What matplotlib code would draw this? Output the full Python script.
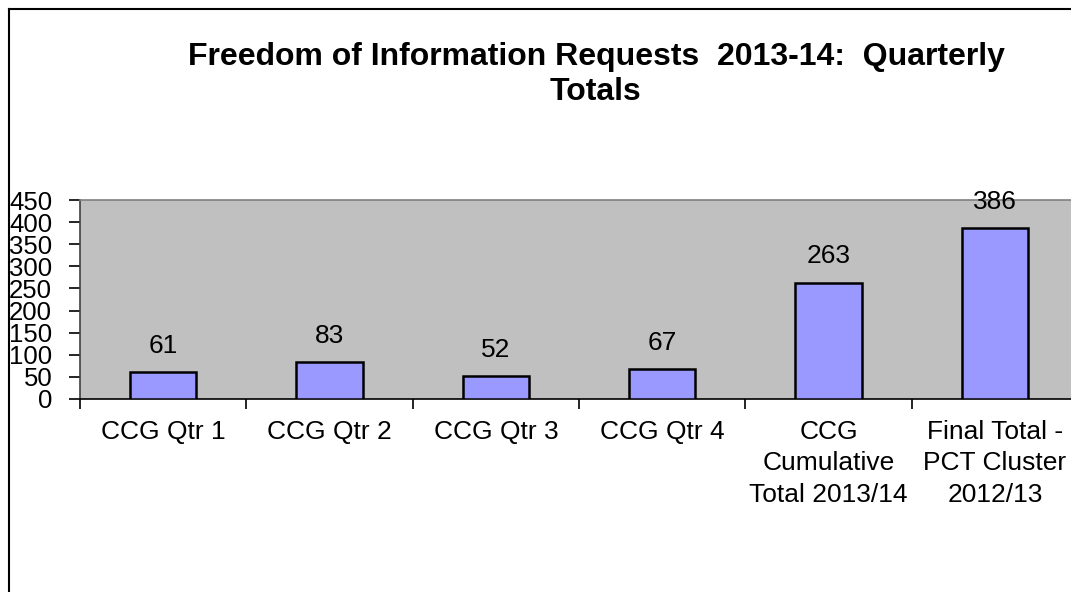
import matplotlib.pyplot as plt
from matplotlib.lines import Line2D
import numpy as np

# Chart data
categories = ["CCG Qtr 1", "CCG Qtr 2", "CCG Qtr 3", "CCG Qtr 4",
              "CCG\nCumulative\nTotal 2013/14", "Final Total -\nPCT Cluster\n2012/13"]
requests = [61, 83, 52, 67, 263, 386]
y_ticks = [0, 50, 100, 150, 200, 250, 300, 350, 400, 450]


def main():
    plt.rcParams['font.family'] = ['Liberation Sans', 'DejaVu Sans']

    fig = plt.figure(figsize=(10.71, 5.92), dpi=100)
    fig.patch.set_facecolor('white')

    # Plot area placed in pixels, right edge runs past the image
    W, H = 1071, 592
    ax = fig.add_axes([80 / W, (H - 399) / H, 998 / W, 199 / H])
    ax.set_facecolor('#C0C0C0')

    x = np.arange(len(categories))
    ax.bar(x, requests, width=0.4, color='#9999FF', edgecolor='black',
           linewidth=1.8, zorder=3)

    for xi, v in zip(x, requests):
        ax.annotate(str(v), (xi, v), xytext=(0, 19), textcoords='offset points',
                    ha='center', va='center', fontsize=19)

    ax.set_xlim(-0.5, len(categories) - 0.5)
    ax.set_ylim(0, 450)

    # Axes and ticks
    ax.set_yticks(y_ticks)
    ax.set_yticklabels([str(t) for t in y_ticks], fontsize=18.5)
    ax.set_xticks(np.arange(len(categories) + 1) - 0.5)
    ax.set_xticklabels([])
    ax.set_xticks(x, minor=True)
    ax.set_xticklabels(categories, minor=True, fontsize=19, linespacing=1.4)
    ax.tick_params(axis='x', which='minor', length=0, pad=15)
    ax.tick_params(axis='x', which='major', length=7, width=1.2, direction='out')
    ax.tick_params(axis='y', length=8, width=1.2, direction='out', pad=12)

    ax.spines['top'].set_color('#808080')
    ax.spines['right'].set_visible(False)
    ax.spines['left'].set_color('#404040')
    ax.spines['bottom'].set_color('black')
    for s in ax.spines.values():
        s.set_linewidth(1.2)

    # Title (two lines)
    fig.text(596 / W, 1 - 57 / H, "Freedom of Information Requests  2013-14:  Quarterly",
             ha='center', va='center', fontsize=23, fontweight='bold')
    fig.text(596 / W, 1 - 92 / H, "Totals",
             ha='center', va='center', fontsize=23, fontweight='bold')

    # Chart frame lines (left and top)
    fig.add_artist(Line2D([9 / W, 9 / W], [0, 1 - 9 / H], color='black', linewidth=1.5))
    fig.add_artist(Line2D([9 / W, 1], [1 - 9 / H, 1 - 9 / H], color='black', linewidth=1.5))

    plt.savefig("out.png", dpi=100)


if __name__ == "__main__":
    main()
